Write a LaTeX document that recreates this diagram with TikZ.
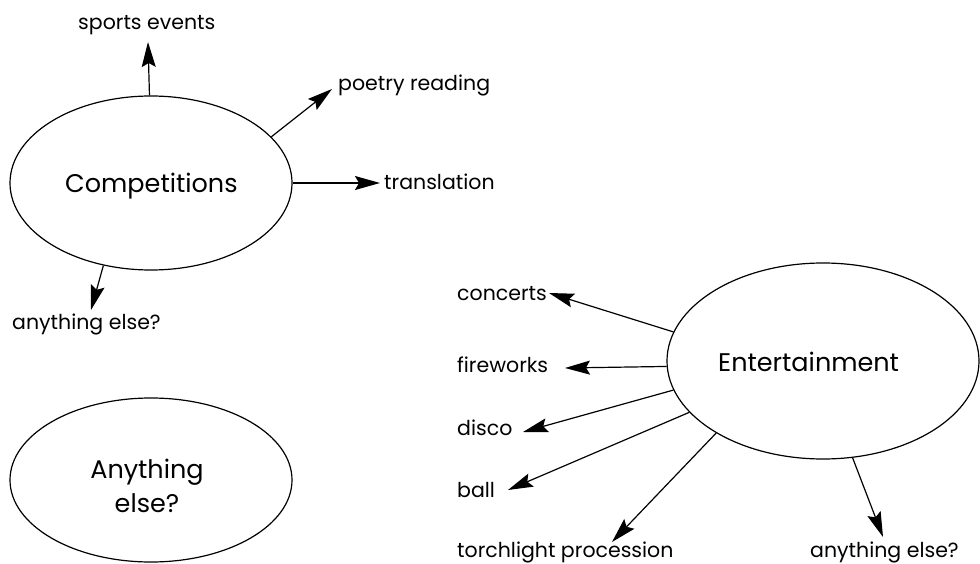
\documentclass[tikz,border=0pt]{standalone}
\usepackage{fontspec}
\setmainfont{Poppins}
\usetikzlibrary{arrows.meta,shapes.geometric}
\begin{document}
\begin{tikzpicture}[x=1pt,y=-1pt,
  bubble/.style={draw,ellipse,line width=1.2pt,inner sep=0pt},
  lbl/.style={anchor=base west,inner sep=0pt,font=\fontsize{20.5}{24}\selectfont},
  ttl/.style={anchor=base west,inner sep=0pt,font=\fontsize{25.5}{30}\selectfont},
  arr/.style={line width=1.2pt,-{Stealth[length=25pt,width=14pt,inset=4pt]}}]
\useasboundingbox (0,0) rectangle (980,564);
% ellipses
\node[bubble,minimum width=282pt,minimum height=174pt] (comp) at (151,183) {};
\node[bubble,minimum width=312pt,minimum height=196pt] (ent) at (823,361) {};
\node[bubble,minimum width=282pt,minimum height=164pt] (any) at (151,480) {};
% titles
\node[ttl] (compT) at (65,193) {Competitions};
\node[ttl] (entT) at (718,371) {Entertainment};
\node[ttl,anchor=base] (anyT1) at (147,478) {Anything};
\node[ttl,anchor=base] (anyT2) at (147,512) {else?};
% labels
\node[lbl] (sports) at (78,30) {sports events};
\node[lbl] (poetry) at (338,91) {poetry reading};
\node[lbl] (transl) at (384,190) {translation};
\node[lbl] (else1) at (12,329) {anything else?};
\node[lbl] (conc) at (457,300) {concerts};
\node[lbl] (fire) at (457,372) {fireworks};
\node[lbl] (disco) at (457,435) {disco};
\node[lbl] (ball) at (457,497) {ball};
\node[lbl] (torch) at (457,557) {torchlight procession};
\node[lbl] (else2) at (810,557) {anything else?};
% arrow tips
\coordinate (tS) at (148,42);
\coordinate (tP) at (332,89);
\coordinate (tT) at (380,183);
\coordinate (tE1) at (91,310);
\coordinate (tC) at (549,293);
\coordinate (tF) at (565,368);
\coordinate (tD) at (523,432);
\coordinate (tB) at (508,490);
\coordinate (tTo) at (612,542);
\coordinate (tE2) at (883,537);
% arrows
\draw[arr] (comp.91) -- (tS);
\draw[arr] (comp.21.6) -- (tP);
\draw[arr] (comp.0) -- (tT);
\draw[arr] (comp.240.2) -- (tE1);
\draw[arr] (ent.169.1) -- (tC);
\draw[arr] (ent.182.6) -- (tF);
\draw[arr] (ent.191.7) -- (tD);
\draw[arr] (ent.201.4) -- (tB);
\draw[arr] (ent.214.8) -- (tTo);
\draw[arr] (ent.287) -- (tE2);
\end{tikzpicture}
\end{document}
